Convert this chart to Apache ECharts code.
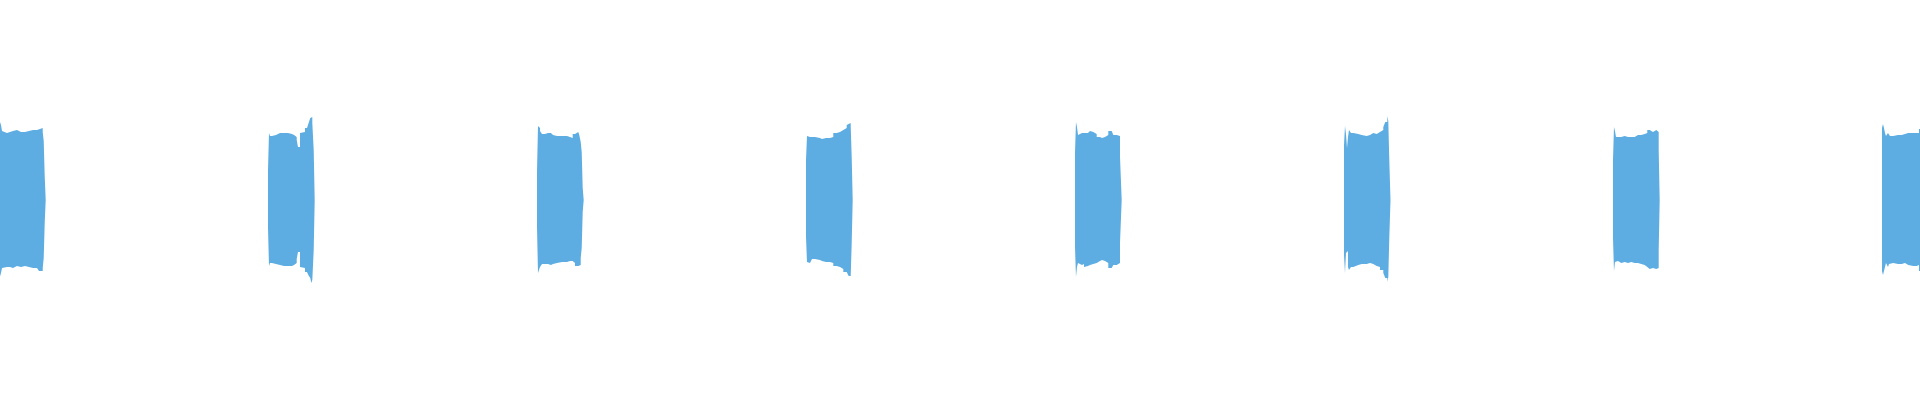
<!DOCTYPE html>
<html style="height: 100%">
	<head>
		<meta charset="utf-8">
	</head>
	<body style="height: 100%; margin: 0; background: #ffffff">
		<div id="container" style="height: 100%"></div>

		<script type="text/javascript" src="https://cdn.jsdelivr.net/npm/echarts@6/dist/echarts.min.js"></script>
		<script type="text/javascript">
			// envelope of each tone burst: [ms from burst start, peak, trough] in % of full scale
			const burst0 = [
				[0, 40.5, -40], [7.4, 37.5, -36.5], [11.2, 34.5, -34], [18.6, 33.5, -33.5],
				[29.7, 34, -33.5], [40.9, 34.5, -34], [52.0, 35, -33], [66.9, 34, -33.5],
				[81.8, 34, -33], [96.7, 34.5, -33.5], [111.5, 35, -34], [126.4, 35, -34],
				[141.3, 35, -35], [148.7, 36, -35.5], [162.5, 34, -34], [166.2, 29.5, -29],
				[169.9, 12, -11.5], [173.6, 12, -11.5]
			];
			const burst1 = [
				[0, 15, -14], [3.7, 33.5, -33], [7.4, 32, -31.5], [14.9, 31.5, -30.5],
				[22.3, 32.5, -32], [29.7, 33.5, -32.5], [44.6, 33.5, -33], [59.5, 33.5, -33],
				[74.4, 33, -33], [89.2, 32.5, -32.5], [96.7, 31.5, -31.5], [106.7, 30, -29.5],
				[111.5, 26.5, -26], [119.0, 33.5, -33.5], [126.4, 34, -34], [137.5, 36, -36],
				[145.0, 36.5, -36.5], [149.8, 38, -37.5], [157.2, 41, -39], [161.0, 41.5, -41.5],
				[164.7, 38.5, -40], [169.9, 25, -25], [173.6, 25, -25]
			];
			const burst2 = [
				[0, 14, -13.5], [3.7, 37, -36.5], [7.4, 36, -35], [11.2, 34.5, -33.5],
				[18.6, 33, -32], [29.7, 33.5, -32], [40.9, 33.5, -32.5], [52.0, 32.5, -32],
				[59.5, 32, -31.5], [74.4, 32, -31], [92.9, 32, -31], [111.5, 31.5, -30.5],
				[122.7, 31, -30.5], [132.7, 33, -31.5], [141.3, 34, -33], [153.5, 34.5, -33.5],
				[157.2, 32.5, -32.5], [162.5, 29, -29], [166.2, 24, -24], [169.9, 6, -6],
				[173.6, 6, -6]
			];
			const burst3 = [
				[0, 20, -18.5], [3.7, 32, -31], [7.4, 31.5, -31.5], [14.9, 32.5, -30.5],
				[22.3, 31.5, -29.5], [33.5, 31, -30], [52.0, 30.5, -30.5], [59.5, 31, -31],
				[74.4, 31, -31], [89.2, 31.5, -31.5], [101.5, 33.5, -33], [114.1, 34, -33.5],
				[126.4, 35, -34.5], [138.7, 36, -36], [151.3, 37.5, -36.5], [158.7, 38.5, -38],
				[166.2, 37, -38.5], [169.9, 21.5, -21.5], [173.6, 21.5, -21.5]
			];
			const burst4 = [
				[0, 23.5, -23.5], [3.7, 39, -38.5], [7.4, 36.5, -33.5], [11.2, 32.5, -31.5],
				[18.6, 33.5, -32.5], [26.0, 33.5, -32], [33.5, 32.5, -33.5], [40.9, 33.5, -33],
				[48.3, 34.5, -32.5], [55.8, 34, -32], [68.0, 33, -31.5], [80.7, 31.5, -30.5],
				[92.9, 31, -30], [100.4, 31.5, -30.5], [111.5, 32.5, -31.5], [123.8, 34.5, -34],
				[136.4, 34, -33.5], [142.4, 32.5, -32.5], [155.0, 33, -32], [161.0, 32, -31.5],
				[167.3, 21.5, -21.5], [173.6, 21.5, -21.5]
			];
			const burst5 = [
				[0, 27.5, -27.5], [3.7, 37, -36.5], [7.4, 33, -26.5], [11.2, 26, -25.5],
				[14.9, 31.5, -33.5], [18.6, 35, -35], [26.0, 33.5, -33.5], [34.6, 33, -32.5],
				[53.2, 32.5, -32], [65.8, 32, -32], [84.4, 32.5, -31.5], [96.7, 33.5, -32],
				[108.9, 33, -33], [121.6, 34, -33.5], [133.8, 35, -35], [146.1, 36.5, -36.5],
				[153.5, 39, -39], [161.0, 42, -41], [164.7, 39.5, -38.5], [168.4, 20, -19],
				[172.9, 20, -19]
			];
			const burst6 = [
				[0, 20, -19], [3.7, 36.5, -35.5], [7.4, 34.5, -31], [11.2, 31.5, -30.5],
				[18.6, 31.5, -31.5], [30.9, 32, -31], [43.5, 31.5, -31.5], [55.8, 31.5, -31],
				[68.0, 31.5, -31.5], [80.7, 32.5, -31.5], [92.9, 32.5, -32], [105.2, 33, -32.5],
				[117.8, 33.5, -33.5], [127.5, 35, -34.5], [136.4, 35.5, -34.5], [142.4, 34, -34],
				[148.7, 35, -34.5], [161.0, 36, -35.5], [166.2, 34, -34], [169.9, 25, -25],
				[173.6, 25, -25]
			];
			const burst7 = [
				[0, 36, -35.5], [3.7, 38, -37.5], [7.4, 36, -35.5], [11.2, 33.5, -33.5],
				[14.9, 32, -31.5], [22.3, 33.5, -33.5], [26.0, 32.5, -32], [29.7, 32, -31.5],
				[42.0, 32.5, -32], [59.5, 32.5, -32], [73.2, 33, -31.5], [85.5, 33.5, -32.5],
				[97.8, 33.5, -33], [116.4, 33.5, -33], [129.0, 33.5, -32.5], [137.5, 35.5, -35.5],
				[173.6, 35.5, -35.5]
			];

			const bursts = [burst0, burst1, burst2, burst3, burst4, burst5, burst6, burst7];
			// onset of each burst, ms
			const burstStarts = [0, 1000, 2000, 3000, 4000, 5000, 6000, 7000];
			const timeRange = [3.7, 7141.3];

			var dom = document.getElementById("container");
			var myChart = echarts.init(dom);

			var color = '#5DADE2';
			function envelopeSeries(data) {
				return {
					type: 'line',
					step: 'end',
					data: data,
					showSymbol: false,
					lineStyle: { width: 0, color: color },
					areaStyle: { color: color, opacity: 1, origin: 0 },
					silent: true
				};
			}

			// one peak and one trough area per burst
			var series = [];
			for (var i = 0; i < bursts.length; i++) {
				var start = burstStarts[i];
				var peaks = bursts[i].map(function (p) { return [start + p[0], p[1]]; });
				var troughs = bursts[i].map(function (p) { return [start + p[0], p[2]]; });
				series.push(envelopeSeries(peaks), envelopeSeries(troughs));
			}

			var option = {
				animation: false,
				grid: { left: 0, right: 0, top: 0, bottom: 0 },
				xAxis: {
					type: 'value',
					min: timeRange[0],
					max: timeRange[1],
					show: false
				},
				yAxis: {
					type: 'value',
					min: -100,
					max: 100,
					show: false
				},
				series: series
			};

			myChart.setOption(option);
		</script>
	</body>
</html>
